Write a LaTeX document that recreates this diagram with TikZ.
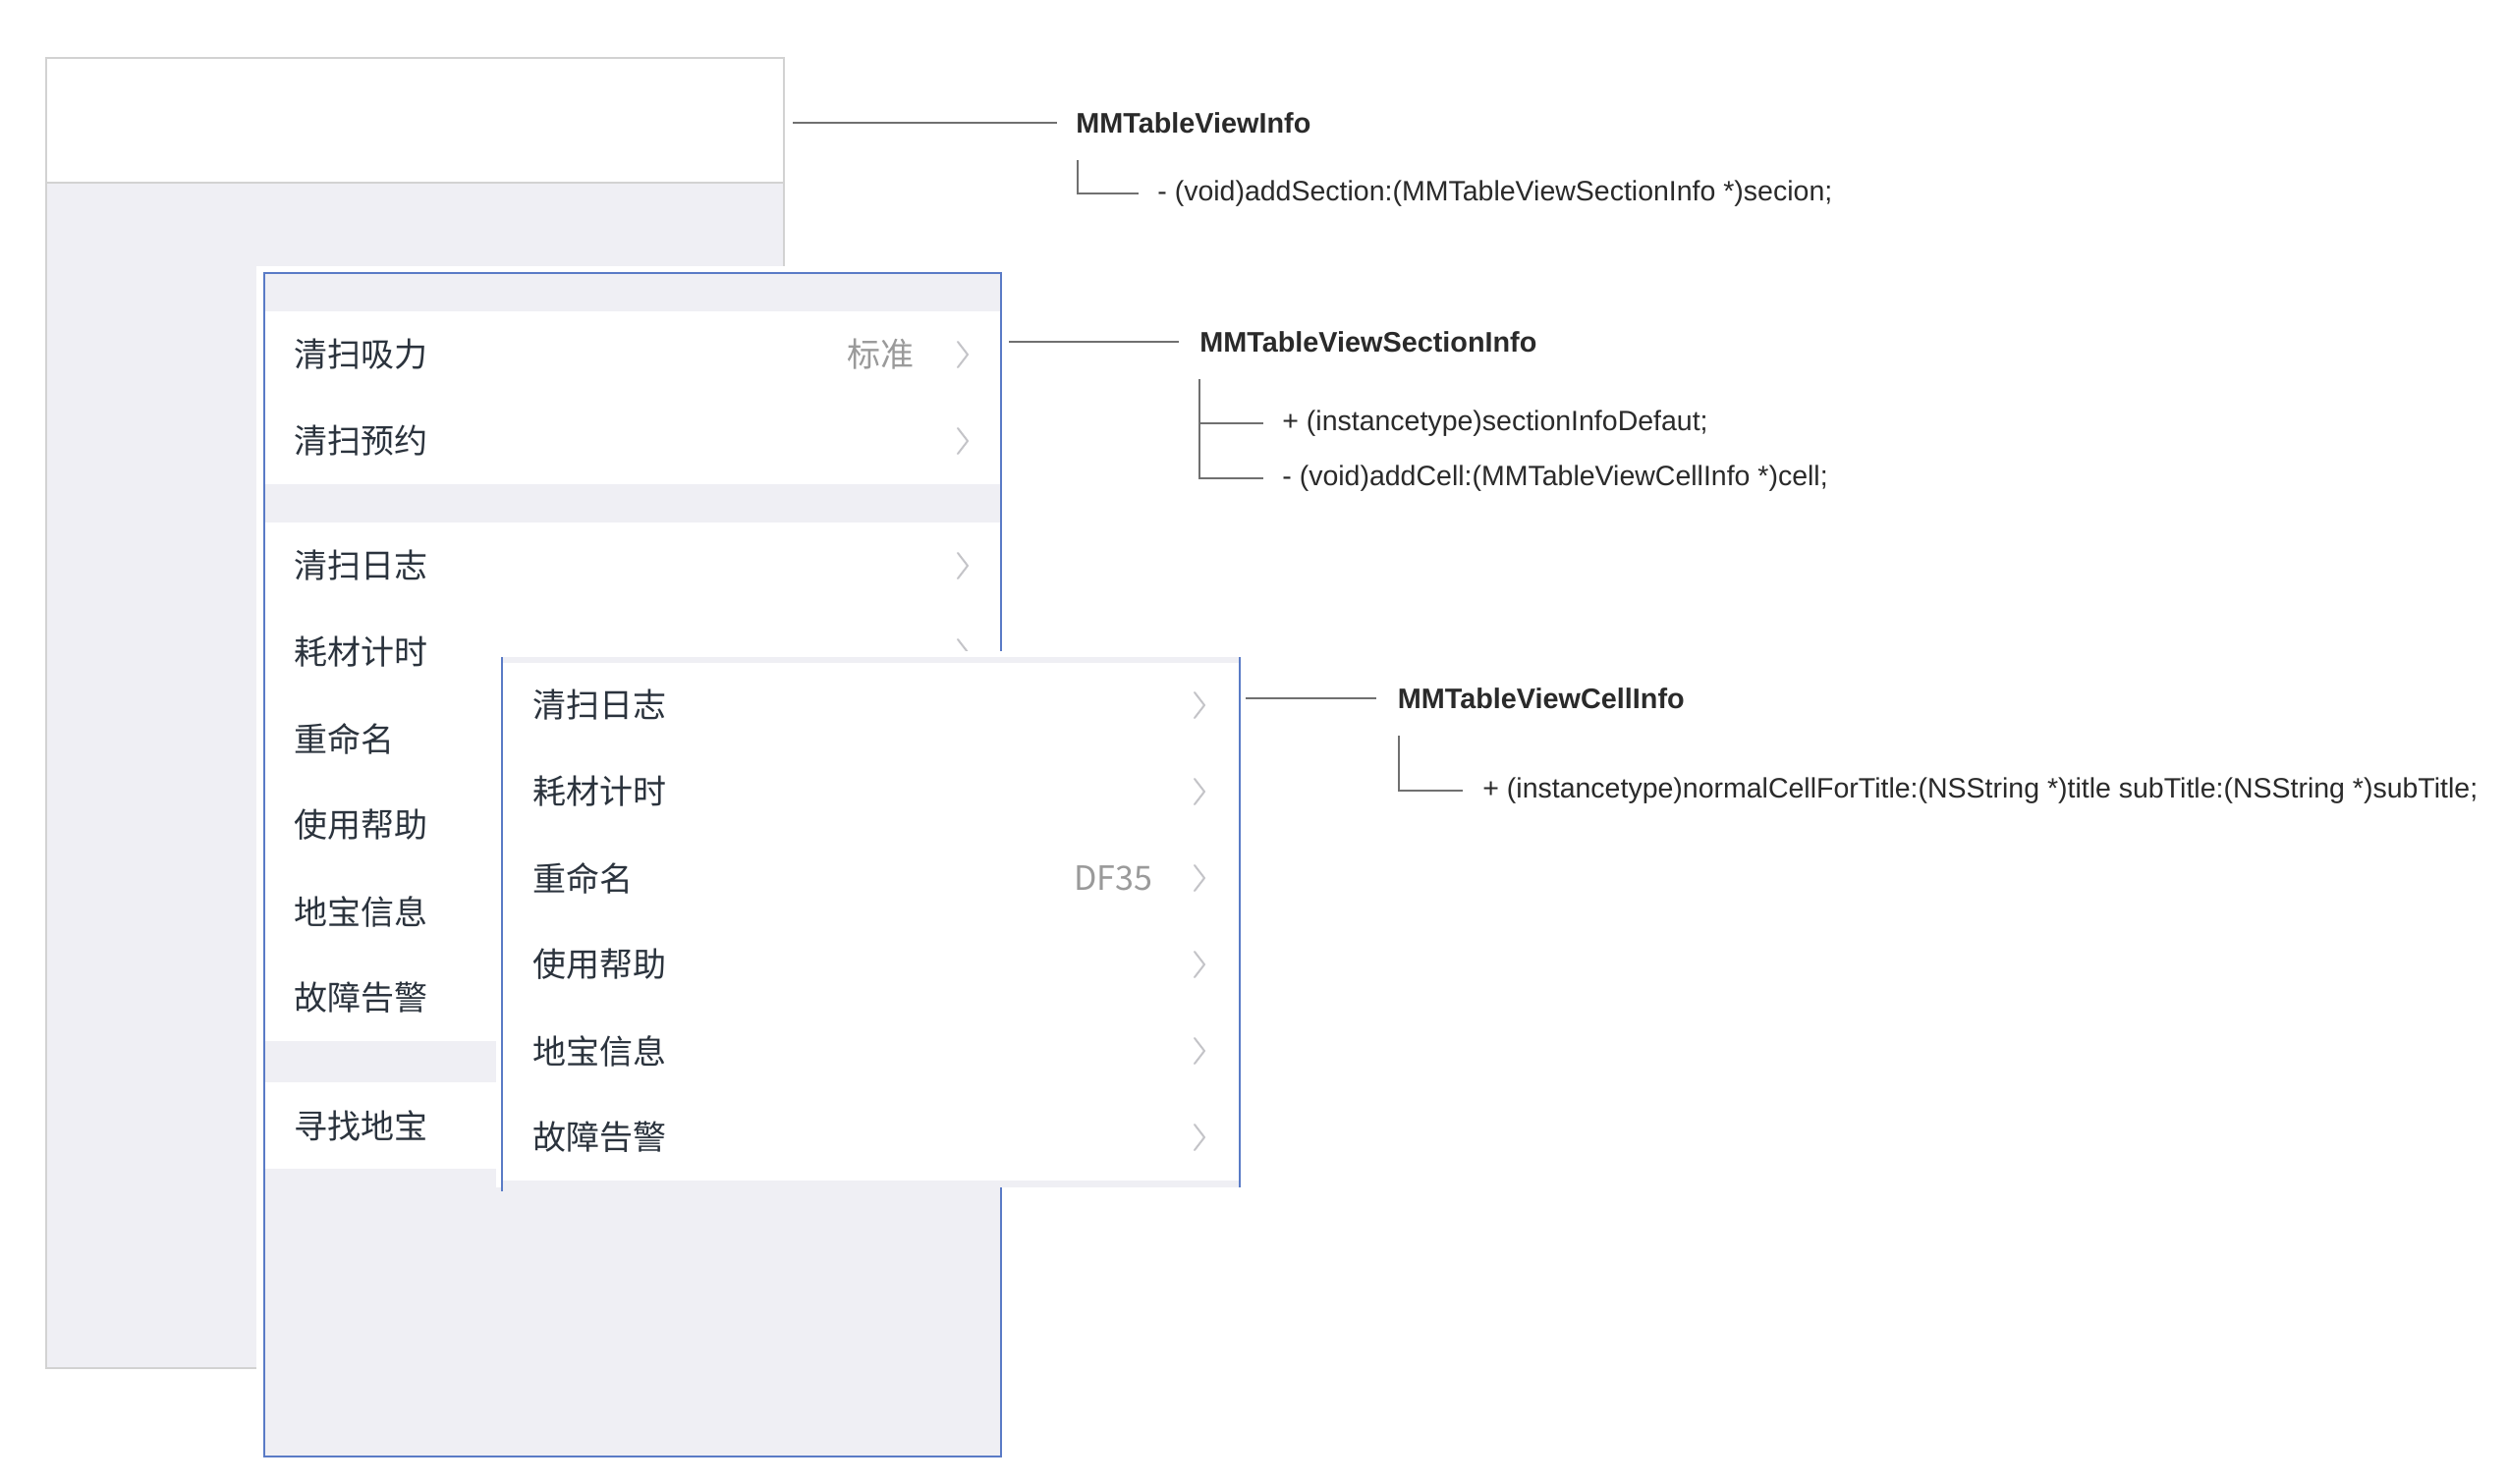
\documentclass[tikz,border=0pt]{standalone}
\usepackage{fontspec}
\setmainfont{Liberation Sans}
\newfontfamily\cjk{Noto Sans CJK SC}
\definecolor{bggray}{HTML}{EFEFF4}
\definecolor{blueline}{HTML}{5A7BC6}
\definecolor{backline}{HTML}{D2D2D2}
\definecolor{conngray}{HTML}{707070}
\definecolor{codetext}{HTML}{2A2A2A}
\definecolor{celltext}{HTML}{2B333D}
\definecolor{subgray}{HTML}{9A9A9A}
\definecolor{chevgray}{HTML}{C4C4C8}
\tikzset{
  code/.style={anchor=west, inner sep=0pt, font=\fontsize{14.25}{16}\selectfont, text=codetext},
  classname/.style={code, font=\bfseries\fontsize{14.4}{16}\selectfont},
  cell/.style={anchor=west, inner sep=0pt, font=\cjk\fontsize{17}{20}\selectfont, text=celltext},
  subtitle/.style={anchor=east, inner sep=0pt, font=\cjk\fontsize{17}{20}\selectfont, text=subgray},
  conn/.style={draw=conngray, line width=1pt},
  panelborder/.style={draw=blueline, line width=1pt},
  chevpic/.pic={\draw[chevgray, line width=1pt, line cap=round, line join=round] (-5,-13) -- (5,0) -- (-5,13);}
}
\begin{document}
\begin{tikzpicture}[x=0.5pt,y=-0.5pt]
\useasboundingbox[fill=white] (0,0) rectangle (2552,1510);

% back panel (table view)
\fill[white] (47,59) rectangle (798,186);
\fill[bggray] (47,186) rectangle (798,1393);
\draw[backline, line width=1pt] (47,59) rectangle (798,1393);
\draw[backline, line width=1pt] (47,186) -- (798,186);

% front panel (section)
\fill[white] (261,271) rectangle (1026,1490);
\fill[bggray] (268.6,278) rectangle (1019,1483);
\fill[white] (268.6,317) rectangle (1019,493);
\fill[white] (268.6,532) rectangle (1019,1060);
\fill[white] (268.6,1102) rectangle (1019,1190);
\draw[panelborder] (268.6,278) rectangle (1019,1483);

\node[cell] (f1) at (299.5,361) {清扫吸力};
\node[subtitle] (fs1) at (931,361) {标准};
\pic at (980,361) {chevpic};
\node[cell] (f2) at (299.5,449) {清扫预约};
\pic at (980,449) {chevpic};
\node[cell] (f3) at (299.5,576) {清扫日志};
\pic at (980,576) {chevpic};
\node[cell] (f4) at (299.5,664) {耗材计时};
\pic at (980,664) {chevpic};
\node[cell] (f5) at (299.5,752) {重命名};
\node[cell] (f6) at (299.5,840) {使用帮助};
\node[cell] (f7) at (299.5,928) {地宝信息};
\node[cell] (f8) at (299.5,1016) {故障告警};
\node[cell] (f9) at (299.5,1146) {寻找地宝};

% third panel (cells)
\fill[white] (505,663) rectangle (1268,1209);
\fill[bggray] (511,669) rectangle (1261.5,1209);
\fill[white] (511,675) rectangle (1261.5,1202);
\draw[panelborder] (511,669) -- (511,1213);
\draw[panelborder] (1261.5,669) -- (1261.5,1209);

\node[cell] (t1) at (542,718) {清扫日志};
\pic at (1221,718) {chevpic};
\node[cell] (t2) at (542,806) {耗材计时};
\pic at (1221,806) {chevpic};
\node[cell] (t3) at (542,894) {重命名};
\node[subtitle] (ts3) at (1173.5,894) {DF35};
\pic at (1221,894) {chevpic};
\node[cell] (t4) at (542,982) {使用帮助};
\pic at (1221,982) {chevpic};
\node[cell] (t5) at (542,1070) {地宝信息};
\pic at (1221,1070) {chevpic};
\node[cell] (t6) at (542,1158) {故障告警};
\pic at (1221,1158) {chevpic};

% annotations
\node[classname] (info) at (1095,125) {MMTableViewInfo};
\node[code] (m1) at (1178,197) {- (void)addSection:(MMTableViewSectionInfo *)secion;};
\node[classname] (sec) at (1221,348) {MMTableViewSectionInfo};
\node[code] (m2) at (1305,431) {+ (instancetype)sectionInfoDefaut;};
\node[code] (m3) at (1305,487) {- (void)addCell:(MMTableViewCellInfo *)cell;};
\node[classname] (cellinfo) at (1422.5,711) {MMTableViewCellInfo};
\node[code] (m4) at (1509,805) {+ (instancetype)normalCellForTitle:(NSString *)title subTitle:(NSString *)subTitle;};

\coordinate (a1) at (807,125);
\coordinate (a2) at (1027,348);
\coordinate (a3) at (1268,711);
\coordinate (e1) at (1097,163);
\coordinate (e2) at (1221,386);
\coordinate (e3) at (1424,749);

\draw[conn] (a1) -- ([xshift=-9.5pt]info.west);
\draw[conn] (e1) |- ([xshift=-9.5pt]m1.west);
\draw[conn] (a2) -- ([xshift=-10.5pt]sec.west);
\draw[conn] (e2) |- ([xshift=-9.5pt]m3.west);
\draw[conn] (e2 |- m2.west) -- ([xshift=-9.5pt]m2.west);
\draw[conn] (a3) -- ([xshift=-10.75pt]cellinfo.west);
\draw[conn] (e3) |- ([xshift=-10pt]m4.west);
\end{tikzpicture}
\end{document}
